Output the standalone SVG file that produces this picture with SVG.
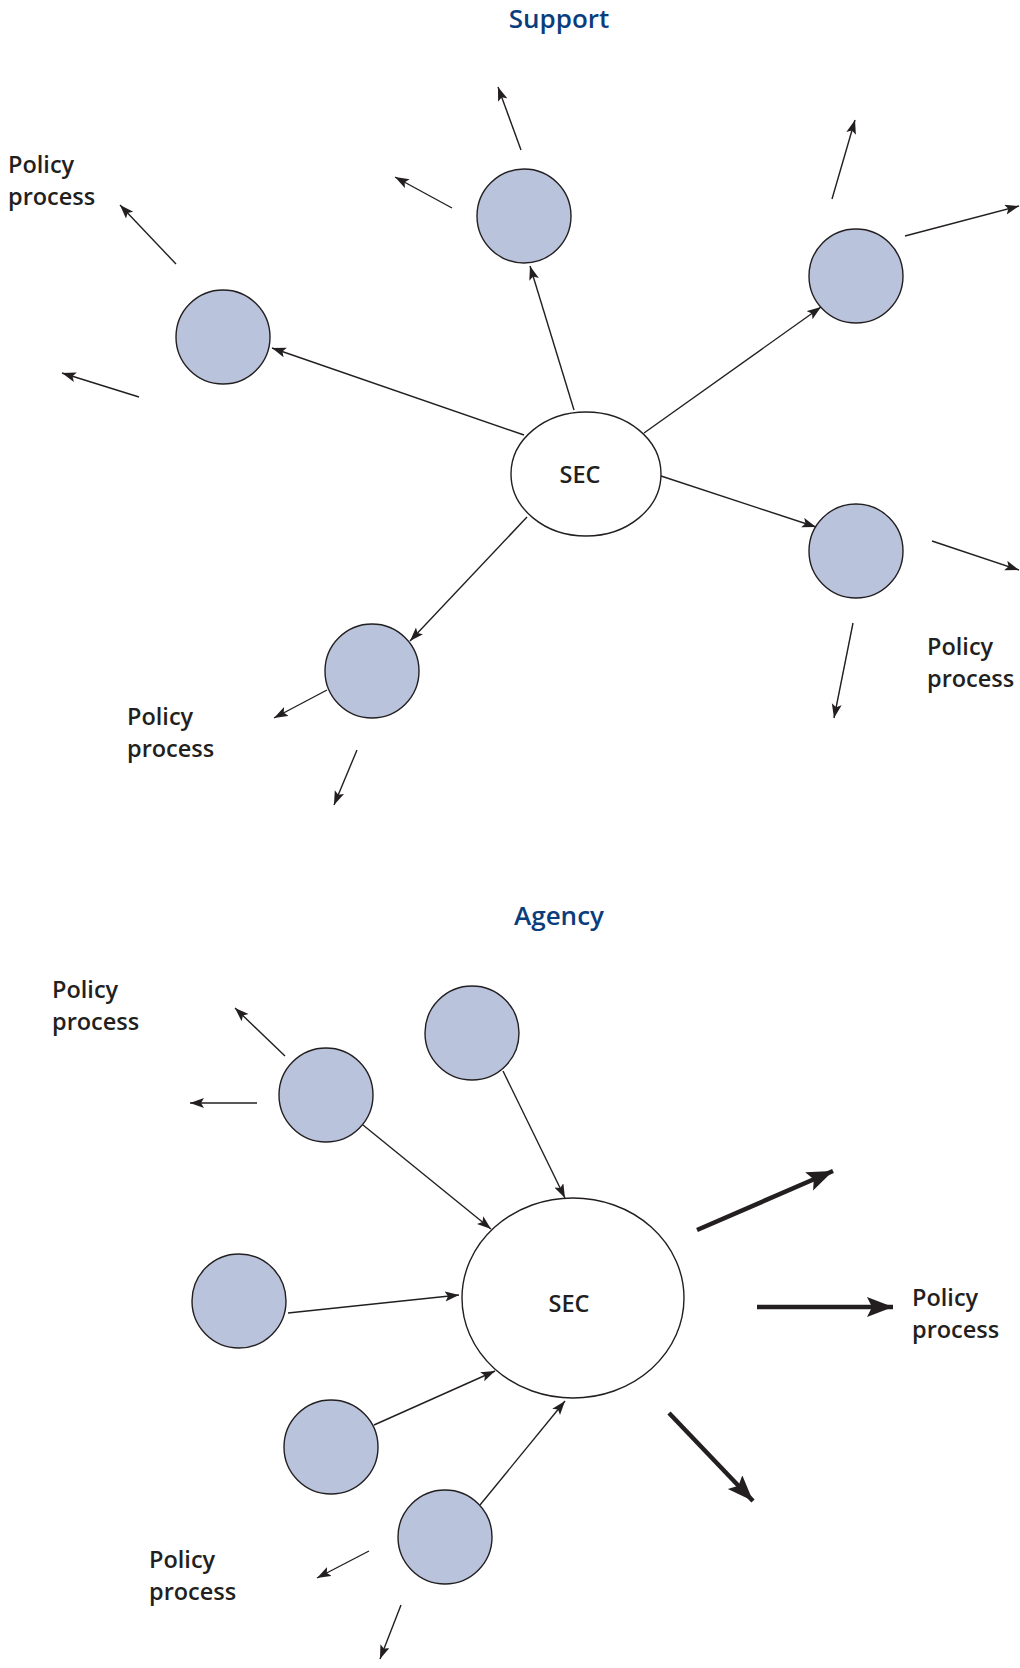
<svg xmlns="http://www.w3.org/2000/svg" width="1020" height="1668" viewBox="0 0 1020 1668">
<style>
.node{fill:#b9c3dc;stroke:#231f20;stroke-width:1.4}
.sec{fill:#fff;stroke:#231f20;stroke-width:1.4}
.ln{stroke:#231f20;stroke-width:1.4;fill:none;marker-end:url(#ah)}
.thick{stroke:#231f20;stroke-width:4.5;fill:none;marker-end:url(#ahb)}
.lbl{font-family:"Open Sans","Liberation Sans",sans-serif;font-size:23.5px;font-weight:600;fill:#231f20}
.sect{font-family:"Open Sans","Liberation Sans",sans-serif;font-size:23.5px;font-weight:600;fill:#231f20;text-anchor:middle}
.title{font-family:"Open Sans","Liberation Sans",sans-serif;font-size:26px;font-weight:600;fill:#0b3d7d;text-anchor:middle}
</style>
<defs>
<marker id="ah" markerUnits="userSpaceOnUse" markerWidth="16" markerHeight="12" refX="14" refY="5" orient="auto"><path d="M0,0 L14,5 L0,10 L3,5 z" fill="#231f20"/></marker>
<marker id="ahb" markerUnits="userSpaceOnUse" markerWidth="30" markerHeight="22" refX="26" refY="10" orient="auto"><path d="M0,0 L26,10 L0,20 L5,10 z" fill="#231f20"/></marker>
</defs>
<rect width="1020" height="1668" fill="#fff"/>
<text class="title" x="559" y="28">Support</text>
<text class="title" x="559" y="925">Agency</text>
<g id="connectors">
<line class="ln" x1="574" y1="410" x2="530" y2="266"/>
<line class="ln" x1="644" y1="433" x2="821" y2="307"/>
<line class="ln" x1="524" y1="435" x2="272" y2="348"/>
<line class="ln" x1="661" y1="476" x2="816" y2="527"/>
<line class="ln" x1="527" y1="517" x2="410" y2="641"/>
<line class="ln" x1="521" y1="150" x2="498" y2="87"/>
<line class="ln" x1="452" y1="208" x2="395" y2="177"/>
<line class="ln" x1="176" y1="264" x2="120" y2="205"/>
<line class="ln" x1="139" y1="397" x2="62" y2="373"/>
<line class="ln" x1="832" y1="199" x2="855" y2="120"/>
<line class="ln" x1="905" y1="236" x2="1019" y2="206"/>
<line class="ln" x1="932" y1="541" x2="1019" y2="570"/>
<line class="ln" x1="853" y1="623" x2="834" y2="718"/>
<line class="ln" x1="327" y1="690" x2="274" y2="718"/>
<line class="ln" x1="357" y1="750" x2="334" y2="805"/>
<line class="ln" x1="503" y1="1071" x2="565" y2="1198"/>
<line class="ln" x1="363" y1="1125" x2="491" y2="1229"/>
<line class="ln" x1="288" y1="1313" x2="459" y2="1295"/>
<line class="ln" x1="374" y1="1425" x2="495" y2="1371"/>
<line class="ln" x1="480" y1="1505" x2="565" y2="1401"/>
<line class="ln" x1="285" y1="1056" x2="235" y2="1008"/>
<line class="ln" x1="257" y1="1103" x2="190" y2="1103"/>
<line class="ln" x1="369" y1="1551" x2="317" y2="1578"/>
<line class="ln" x1="401" y1="1605" x2="380" y2="1659"/>
<line class="thick" x1="697" y1="1230" x2="833" y2="1171"/>
<line class="thick" x1="757" y1="1307" x2="893" y2="1307"/>
<line class="thick" x1="669" y1="1413" x2="753" y2="1501"/>
</g>
<g id="sec1"><ellipse class="sec" cx="586" cy="474" rx="75" ry="62"/><text class="sect" x="580" y="483">SEC</text></g>
<g id="s1"><circle class="node" cx="524" cy="216" r="47"/></g>
<g id="s2"><circle class="node" cx="856" cy="276" r="47"/></g>
<g id="s3"><circle class="node" cx="223" cy="337" r="47"/></g>
<g id="s4"><circle class="node" cx="856" cy="551" r="47"/></g>
<g id="s5"><circle class="node" cx="372" cy="671" r="47"/></g>
<g id="lbl1"><text class="lbl" x="8" y="173">Policy</text><text class="lbl" x="8" y="205">process</text></g>
<g id="lbl2"><text class="lbl" x="127" y="725">Policy</text><text class="lbl" x="127" y="757">process</text></g>
<g id="lbl3"><text class="lbl" x="927" y="655">Policy</text><text class="lbl" x="927" y="687">process</text></g>
<g id="sec2"><ellipse class="sec" cx="573" cy="1298" rx="111" ry="100"/><text class="sect" x="569" y="1312">SEC</text></g>
<g id="a1"><circle class="node" cx="326" cy="1095" r="47"/></g>
<g id="a2"><circle class="node" cx="472" cy="1033" r="47"/></g>
<g id="a3"><circle class="node" cx="239" cy="1301" r="47"/></g>
<g id="a4"><circle class="node" cx="331" cy="1447" r="47"/></g>
<g id="a5"><circle class="node" cx="445" cy="1537" r="47"/></g>
<g id="lbl4"><text class="lbl" x="52" y="998">Policy</text><text class="lbl" x="52" y="1030">process</text></g>
<g id="lbl5"><text class="lbl" x="912" y="1306">Policy</text><text class="lbl" x="912" y="1338">process</text></g>
<g id="lbl6"><text class="lbl" x="149" y="1568">Policy</text><text class="lbl" x="149" y="1600">process</text></g>
</svg>
